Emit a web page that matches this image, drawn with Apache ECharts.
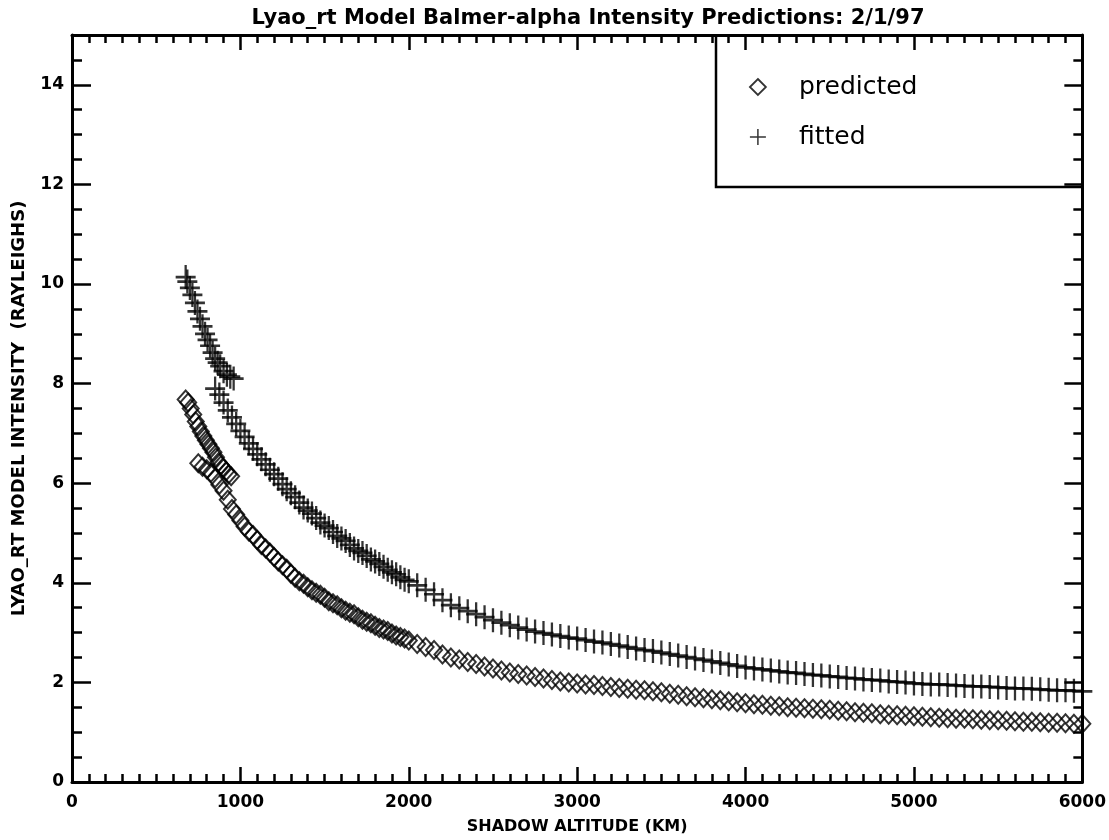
<!DOCTYPE html>
<html>
<head>
<meta charset="utf-8">
<title>Lyao_rt Model Balmer-alpha Intensity Predictions</title>
<script src="https://cdn.jsdelivr.net/npm/echarts@6/dist/echarts.min.js"></script>
<style>
html, body { margin: 0; padding: 0; background: #fff; }
#main { width: 1109px; height: 840px; }
</style>
</head>
<body>
<div id="main"></div>
<script>
// early points (upper branch near 700-960 km)
var predictedBlockAlt = [675, 690, 705, 720, 735, 750, 765, 780, 795, 810, 825, 840, 855, 870, 885, 900, 915, 930, 945];
var predictedBlockVal = [7.68, 7.62, 7.50, 7.38, 7.24, 7.14, 7.04, 6.95, 6.86, 6.78, 6.70, 6.62, 6.52, 6.42, 6.36, 6.30, 6.24, 6.18, 6.14];
var fittedBlockAlt = [675, 685, 700, 715, 730, 745, 760, 775, 790, 805, 820, 835, 850, 865, 880, 900, 920, 940, 960];
var fittedBlockVal = [10.14, 10.05, 9.92, 9.78, 9.62, 9.45, 9.30, 9.15, 9.00, 8.88, 8.76, 8.62, 8.50, 8.42, 8.35, 8.25, 8.18, 8.14, 8.10];

// main curves
var predictedAlt = [750, 800, 850, 900, 950, 1000, 1050, 1100, 1150, 1200, 1250, 1300, 1350, 1400, 1450, 1500, 1550, 1600, 1650, 1700,
    1750, 1800, 1850, 1900, 1950, 2000, 2050, 2100, 2150, 2200, 2250, 2300, 2350, 2400, 2450, 2500, 2550, 2600, 2650, 2700,
    2750, 2800, 2850, 2900, 2950, 3000, 3050, 3100, 3150, 3200, 3250, 3300, 3350, 3400, 3450, 3500, 3550, 3600, 3650, 3700,
    3750, 3800, 3850, 3900, 3950, 4000, 4050, 4100, 4150, 4200, 4250, 4300, 4350, 4400, 4450, 4500, 4550, 4600, 4650, 4700,
    4750, 4800, 4850, 4900, 4950, 5000, 5050, 5100, 5150, 5200, 5250, 5300, 5350, 5400, 5450, 5500, 5550, 5600, 5650, 5700,
    5750, 5800, 5850, 5900, 5950, 6000];
var predictedVal = [6.40, 6.28, 6.10, 5.85, 5.48, 5.25, 5.03, 4.86, 4.69, 4.52, 4.35, 4.18, 4.03, 3.91, 3.80, 3.70, 3.59, 3.49, 3.40, 3.31,
    3.22, 3.14, 3.06, 2.98, 2.91, 2.84, 2.77, 2.71, 2.65, 2.56, 2.50, 2.46, 2.41, 2.37, 2.32, 2.28, 2.24, 2.20, 2.17, 2.14,
    2.11, 2.08, 2.05, 2.02, 2.00, 1.98, 1.96, 1.95, 1.93, 1.91, 1.89, 1.87, 1.85, 1.84, 1.82, 1.80, 1.77, 1.75, 1.72, 1.70,
    1.68, 1.66, 1.64, 1.62, 1.60, 1.58, 1.56, 1.55, 1.53, 1.52, 1.50, 1.49, 1.48, 1.47, 1.46, 1.45, 1.43, 1.42, 1.40, 1.39,
    1.38, 1.36, 1.35, 1.34, 1.33, 1.32, 1.31, 1.30, 1.29, 1.28, 1.27, 1.27, 1.26, 1.25, 1.24, 1.24, 1.23, 1.22, 1.21, 1.21,
    1.20, 1.19, 1.19, 1.18, 1.17, 1.17];
var predictedMidAlt = [775, 825, 875, 925, 975, 1025, 1075, 1125, 1175, 1225, 1275, 1325, 1375, 1425, 1475, 1525, 1575, 1625,
    1675, 1725, 1775, 1825, 1875, 1925, 1975];
var predictedMidVal = [6.33, 6.21, 5.97, 5.67, 5.37, 5.13, 4.96, 4.76, 4.61, 4.43, 4.28, 4.10, 3.98, 3.85, 3.76, 3.63, 3.55, 3.44,
    3.37, 3.26, 3.19, 3.09, 3.03, 2.94, 2.88];

var fittedAlt = [850, 900, 950, 1000, 1050, 1100, 1150, 1200, 1250, 1300, 1350, 1400, 1450, 1500, 1550, 1600, 1650, 1700,
    1750, 1800, 1850, 1900, 1950, 2000, 2050, 2100, 2150, 2200, 2250, 2300, 2350, 2400, 2450, 2500, 2550, 2600, 2650, 2700,
    2750, 2800, 2850, 2900, 2950, 3000, 3050, 3100, 3150, 3200, 3250, 3300, 3350, 3400, 3450, 3500, 3550, 3600, 3650, 3700,
    3750, 3800, 3850, 3900, 3950, 4000, 4050, 4100, 4150, 4200, 4250, 4300, 4350, 4400, 4450, 4500, 4550, 4600, 4650, 4700,
    4750, 4800, 4850, 4900, 4950, 5000, 5050, 5100, 5150, 5200, 5250, 5300, 5350, 5400, 5450, 5500, 5550, 5600, 5650, 5700,
    5750, 5800, 5850, 5900, 5950, 6000];
var fittedVal = [7.90, 7.62, 7.32, 7.05, 6.80, 6.58, 6.38, 6.18, 5.98, 5.80, 5.61, 5.45, 5.30, 5.15, 5.02, 4.89, 4.76, 4.64,
    4.54, 4.43, 4.32, 4.21, 4.11, 4.03, 3.95, 3.86, 3.77, 3.65, 3.55, 3.49, 3.43, 3.37, 3.31, 3.25, 3.20, 3.15, 3.10, 3.06,
    3.02, 2.99, 2.96, 2.93, 2.90, 2.88, 2.85, 2.82, 2.80, 2.77, 2.74, 2.71, 2.68, 2.65, 2.63, 2.60, 2.57, 2.54, 2.51, 2.48,
    2.45, 2.42, 2.39, 2.36, 2.33, 2.30, 2.28, 2.26, 2.24, 2.22, 2.20, 2.19, 2.17, 2.15, 2.14, 2.12, 2.11, 2.09, 2.08, 2.06,
    2.05, 2.04, 2.02, 2.01, 2.00, 1.98, 1.97, 1.96, 1.96, 1.95, 1.94, 1.93, 1.92, 1.92, 1.91, 1.90, 1.89, 1.88, 1.88, 1.87,
    1.86, 1.85, 1.84, 1.84, 1.83, 1.82];
var fittedMidAlt = [875, 925, 975, 1025, 1075, 1125, 1175, 1225, 1275, 1325, 1375, 1425, 1475, 1525, 1575, 1625, 1675, 1725,
    1775, 1825, 1875, 1925, 1975];
var fittedMidVal = [7.78, 7.46, 7.19, 6.93, 6.69, 6.48, 6.27, 6.09, 5.88, 5.72, 5.51, 5.39, 5.21, 5.10, 4.94, 4.84, 4.69, 4.60,
    4.47, 4.38, 4.26, 4.17, 4.06];

var xTicks = [0, 1000, 2000, 3000, 4000, 5000, 6000];
var yTicks = [0, 2, 4, 6, 8, 10, 12, 14];

var plusPath = 'path://M10,0L10,20M0,10L20,10';
var labelFont = 'DejaVu Sans';

function pairs(xs, ys) {
    var out = [];
    for (var i = 0; i < xs.length; i++) {
        out.push([xs[i], ys[i]]);
    }
    return out;
}

var chart = echarts.init(document.getElementById('main'), null, {renderer: 'canvas'});

var lineStyle = {color: '#000', width: 3};
var tickStyle = {color: '#000', width: 2.5};

var option = {
    animation: false,
    backgroundColor: '#fff',
    title: {
        text: 'Lyao_rt Model Balmer-alpha Intensity Predictions: 2/1/97',
        left: 583,
        textAlign: 'center',
        top: 3,
        textStyle: {fontFamily: labelFont, fontSize: 21, fontWeight: 'bold', color: '#000'}
    },
    legend: {
        orient: 'vertical',
        left: 744,
        top: 67,
        itemWidth: 16,
        itemHeight: 16,
        itemGap: 20,
        selectedMode: false,
        textStyle: {fontFamily: labelFont, fontSize: 25, color: '#000', lineHeight: 30, padding: [0, 0, 0, 28]},
        data: [
            {name: 'predicted', icon: 'diamond', itemStyle: {color: 'rgba(0,0,0,0)', borderColor: '#000', borderWidth: 1.8}},
            {name: 'fitted', icon: plusPath, itemStyle: {color: 'rgba(0,0,0,0)', borderColor: '#000', borderWidth: 1.5}}
        ]
    },
    grid: {left: 72, right: 26, top: 35, bottom: 57},
    xAxis: [{
        type: 'value', position: 'bottom', min: 0, max: 6000, interval: 1000,
        name: 'SHADOW ALTITUDE (KM)', nameLocation: 'middle', nameGap: 37,
        nameTextStyle: {fontFamily: labelFont, fontSize: 16, fontWeight: 'bold', color: '#000'},
        axisLine: {show: true, onZero: false, lineStyle: lineStyle},
        axisTick: {inside: true, length: 15, lineStyle: tickStyle},
        minorTick: {show: true, splitNumber: 10, length: 8, lineStyle: tickStyle},
        axisLabel: {margin: 12, fontFamily: labelFont, fontSize: 17, fontWeight: 'bold', color: '#000',
            formatter: function(v) { return xTicks.indexOf(v) >= 0 ? String(v) : ''; }},
        splitLine: {show: false}
    }, {
        type: 'value', position: 'top', min: 0, max: 6000, interval: 1000,
        axisLine: {show: true, onZero: false, lineStyle: lineStyle},
        axisTick: {inside: true, length: 15, lineStyle: tickStyle},
        minorTick: {show: true, splitNumber: 10, length: 8, lineStyle: tickStyle},
        axisLabel: {show: false},
        splitLine: {show: false}
    }],
    yAxis: [{
        // left, short ticks every 0.5
        type: 'value', position: 'left', min: 0, max: 15, interval: 0.5,
        name: 'LYAO_RT MODEL INTENSITY  (RAYLEIGHS)', nameLocation: 'middle', nameGap: 44,
        nameTextStyle: {fontFamily: labelFont, fontSize: 18, fontWeight: 'bold', color: '#000'},
        axisLine: {show: true, onZero: false, lineStyle: lineStyle},
        axisTick: {inside: true, length: 10, lineStyle: tickStyle},
        axisLabel: {margin: 8, fontFamily: labelFont, fontSize: 17, fontWeight: 'bold', color: '#000',
            formatter: function(v) { return yTicks.indexOf(v) >= 0 ? String(v) : ''; }},
        splitLine: {show: false}
    }, {
        // left, long ticks every 2
        type: 'value', position: 'left', min: 0, max: 15, interval: 2,
        axisLine: {show: false, onZero: false},
        axisTick: {inside: true, length: 19, lineStyle: tickStyle},
        axisLabel: {show: false},
        splitLine: {show: false}
    }, {
        type: 'value', position: 'right', min: 0, max: 15, interval: 0.5,
        axisLine: {show: true, onZero: false, lineStyle: lineStyle},
        axisTick: {inside: true, length: 9, lineStyle: tickStyle},
        axisLabel: {show: false},
        splitLine: {show: false}
    }, {
        type: 'value', position: 'right', min: 0, max: 15, interval: 2,
        axisLine: {show: false, onZero: false},
        axisTick: {inside: true, length: 18, lineStyle: tickStyle},
        axisLabel: {show: false},
        splitLine: {show: false}
    }],
    graphic: [{
        type: 'polyline',
        silent: true,
        shape: {points: [[716, 35], [716, 187], [1083, 187]]},
        style: {stroke: '#000', lineWidth: 2.5, fill: null}
    }],
    series: [{
        name: 'predicted',
        type: 'scatter',
        xAxisIndex: 0,
        yAxisIndex: 0,
        symbol: 'diamond',
        symbolSize: [16, 18],
        silent: true,
        itemStyle: {color: 'rgba(0,0,0,0)', borderColor: '#000', borderWidth: 2},
        data: pairs(predictedBlockAlt, predictedBlockVal)
            .concat(pairs(predictedAlt, predictedVal))
            .concat(pairs(predictedMidAlt, predictedMidVal))
    }, {
        name: 'fitted',
        type: 'scatter',
        xAxisIndex: 0,
        yAxisIndex: 0,
        symbol: plusPath,
        symbolSize: [20, 24],
        silent: true,
        itemStyle: {color: 'rgba(0,0,0,0)', borderColor: '#000', borderWidth: 2.5},
        data: pairs(fittedBlockAlt, fittedBlockVal)
            .concat(pairs(fittedAlt, fittedVal))
            .concat(pairs(fittedMidAlt, fittedMidVal))
    }]
};

chart.setOption(option);
</script>
</body>
</html>
